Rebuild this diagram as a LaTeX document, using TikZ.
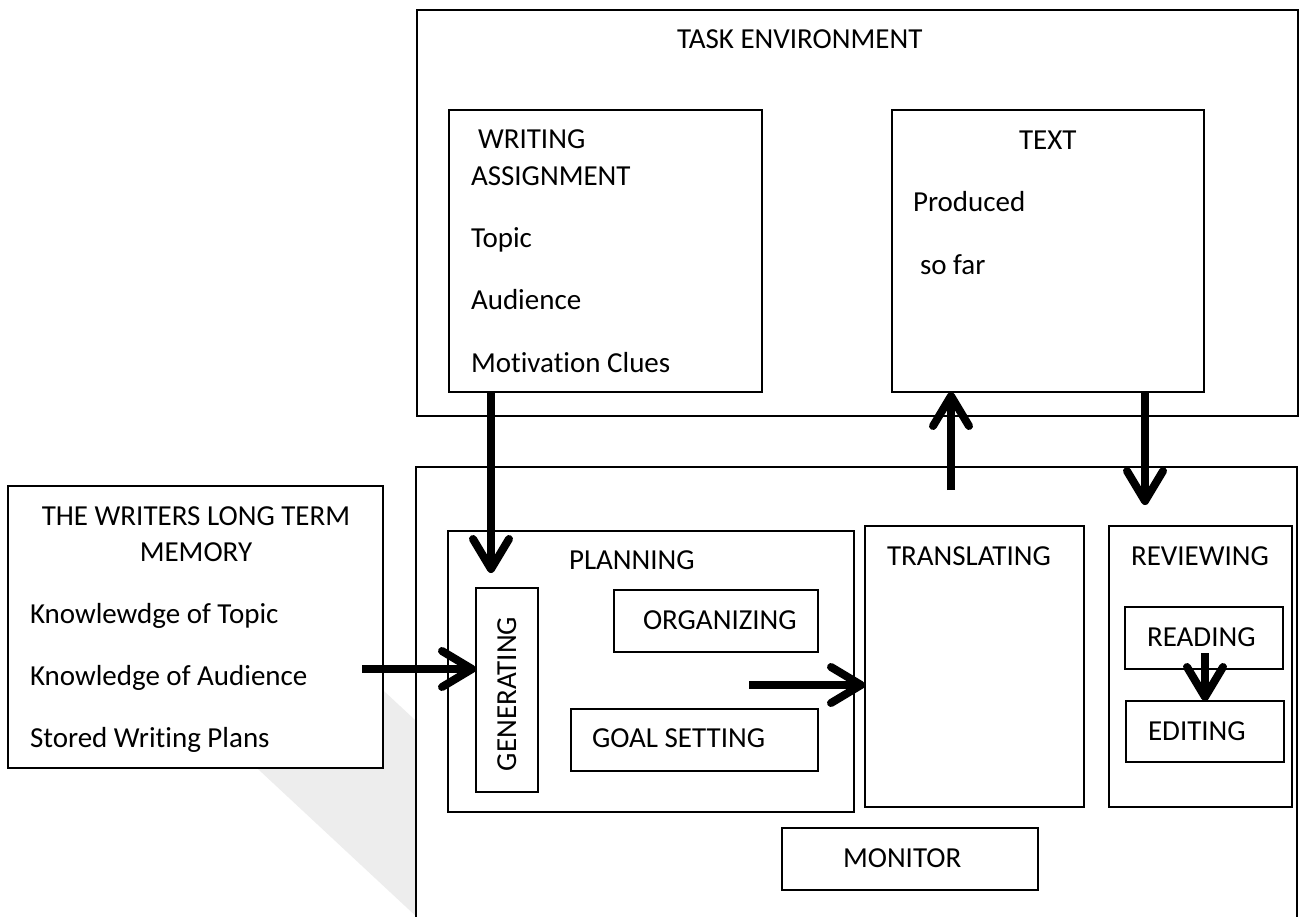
\documentclass[tikz,border=0pt]{standalone}
\usepackage{fontspec}
\setmainfont{Carlito}[Ligatures=NoCommon]
\usetikzlibrary{arrows.meta}
\begin{document}
\begin{tikzpicture}[x=1pt,y=-1pt,
  box/.style={draw=black,line width=1.7pt,fill=white,inner sep=0pt,outer sep=0pt,anchor=north west},
  lbl/.style={inner sep=0pt,outer sep=0pt,anchor=base west,font=\fontsize{29pt}{35pt}\selectfont},
  clbl/.style={lbl,anchor=base},
  arr/.style={line width=8pt,-{Straight Barb[length=30pt,width=36pt,round]}},
  band/.style={fill=black!7,draw=none}]
\useasboundingbox (0,0) rectangle (1300,916);
\clip (0,0) rectangle (1300,916);
\fill[white] (0,0) rectangle (1300,916);

% faint diagonal band behind the memory box
\path[band] (200,715) -- (300,613) -- (700,985) -- (463,960) -- cycle;

% task environment
\node[box,minimum width=881pt,minimum height=406pt] (env) at (417,10) {};
\node[lbl] (envt) at (677,48) {TASK ENVIRONMENT};

\node[box,minimum width=313pt,minimum height=282pt] (wa) at (449,110) {};
\node[lbl] (wa1) at (478,148) {WRITING};
\node[lbl] (wa2) at (471,185) {ASSIGNMENT};
\node[lbl] (wa3) at (471,247) {Topic};
\node[lbl] (wa4) at (471,309) {Audience};
\node[lbl] (wa5) at (471,372) {Motivation Clues};

\node[box,minimum width=312pt,minimum height=282pt] (txt) at (892,110) {};
\node[lbl] (txt1) at (1019,149) {TEXT};
\node[lbl] (txt2) at (913,211) {Produced};
\node[lbl] (txt3) at (920,274) {so far};

% long term memory
\node[box,minimum width=375pt,minimum height=282pt] (ltm) at (8,486) {};
\node[clbl] (ltm1) at (196,525) {THE WRITERS LONG TERM};
\node[clbl] (ltm2) at (196,561) {MEMORY};
\node[lbl] (ltm3) at (30,623) {Knowlewdge of Topic};
\node[lbl] (ltm4) at (30,685) {Knowledge of Audience};
\node[lbl] (ltm5) at (30,747) {Stored Writing Plans};

% writing processes
\node[box,minimum width=881pt,minimum height=480pt] (proc) at (416,467) {};

\node[box,minimum width=406pt,minimum height=281pt] (plan) at (448,531) {};
\node[lbl] (plant) at (569,569) {PLANNING};
\node[box,minimum width=62pt,minimum height=204pt] (gen) at (476,588) {};
\node[lbl,rotate=90] (gent) at (516,771) {GENERATING};
\node[box,minimum width=204pt,minimum height=62pt] (org) at (614,590) {};
\node[lbl] (orgt) at (643,629) {ORGANIZING};
\node[box,minimum width=247pt,minimum height=62pt] (goal) at (571,709) {};
\node[lbl] (goalt) at (592,747) {GOAL SETTING};

\node[box,minimum width=219pt,minimum height=281pt] (trans) at (865,526) {};
\node[lbl] (transt) at (887,565) {TRANSLATING};

\node[box,minimum width=183pt,minimum height=281pt] (rev) at (1109,526) {};
\node[lbl] (revt) at (1131,565) {REVIEWING};
\node[box,minimum width=158pt,minimum height=62pt] (read) at (1125,607) {};
\node[lbl] (readt) at (1147,646) {READING};
\node[box,minimum width=158pt,minimum height=61pt] (edit) at (1126,701) {};
\node[lbl] (editt) at (1148,740) {EDITING};

\node[box,minimum width=256pt,minimum height=62pt] (mon) at (782,828) {};
\node[lbl] (mont) at (843,867) {MONITOR};

% connector end points
\coordinate (genin) at (491,573);
\coordinate (ltmout) at (362,669);
\coordinate (planout) at (749,685);
\coordinate (transout) at (951,490);
\coordinate (revin) at (1145,505);
\coordinate (readout) at (1205,653);

% arrows
\draw[arr] (wa.south -| genin) -- (genin);
\draw[arr] (ltmout) -- (gen.west |- ltmout);
\draw[arr] (planout) -- (trans.west |- planout);
\draw[arr] (transout) -- (txt.south -| transout);
\draw[arr] (txt.south -| revin) -- (revin);
\draw[arr] (readout) -- (edit.north -| readout);
\end{tikzpicture}
\end{document}
